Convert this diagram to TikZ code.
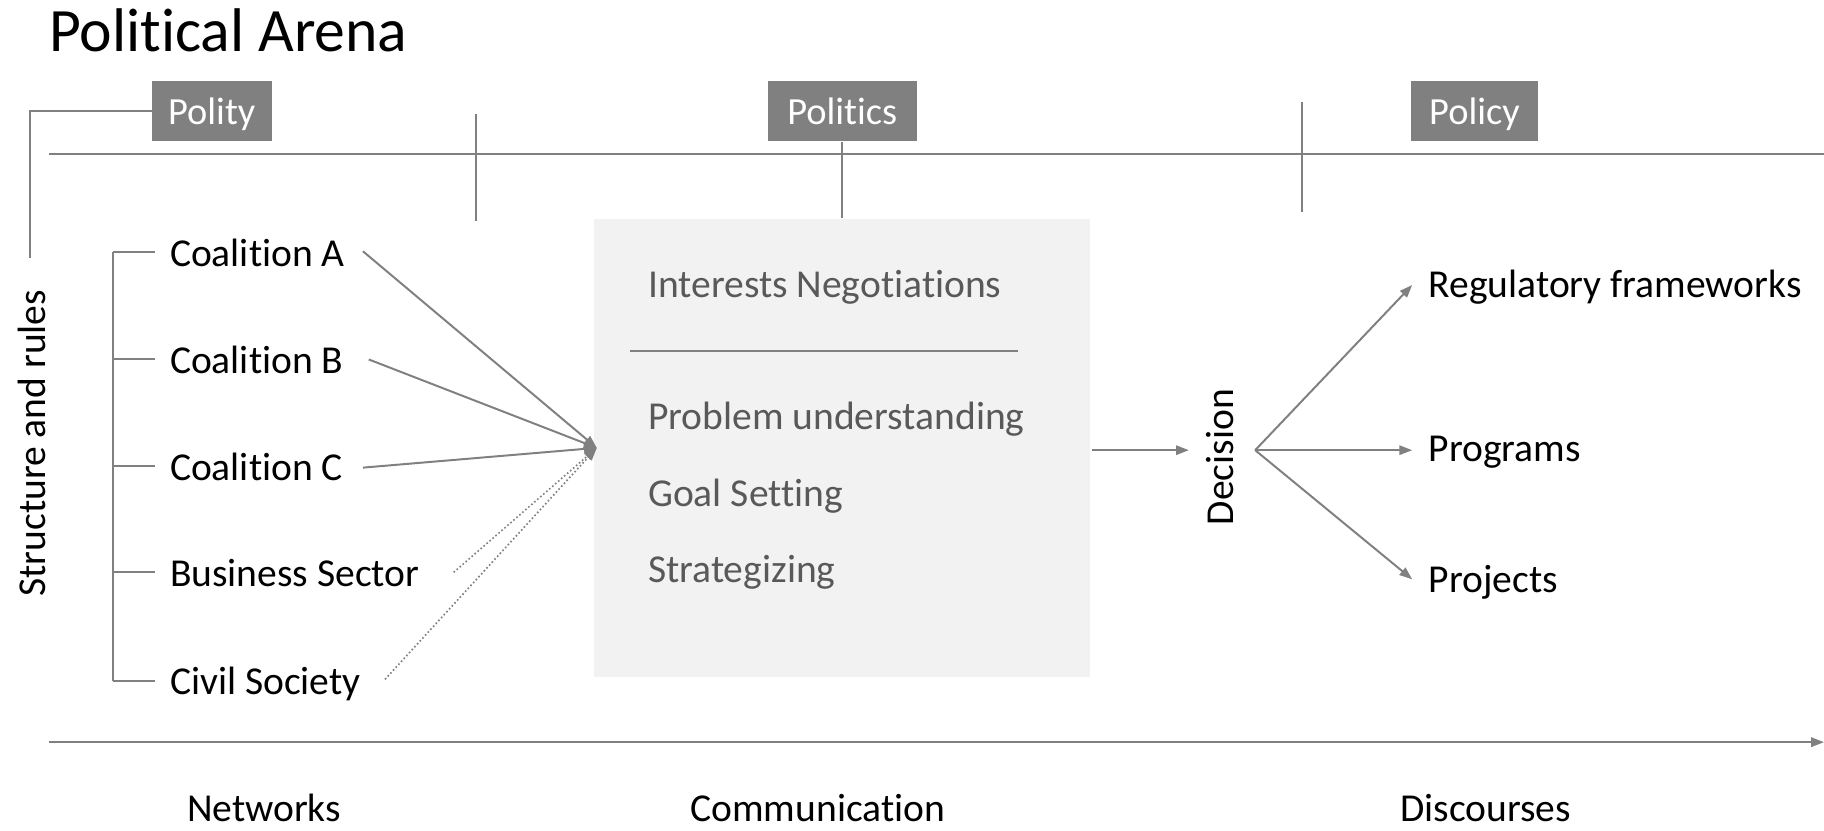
\documentclass[tikz,border=0pt]{standalone}
\usepackage{fontspec}
\setmainfont{Carlito}[Ligatures=NoCommon]
\usetikzlibrary{arrows.meta}
\definecolor{lg}{HTML}{808080}
\definecolor{boxbg}{HTML}{F2F2F2}
\definecolor{dtxt}{HTML}{595959}
\tikzset{
  ln/.style={draw=lg, line width=1.7pt},
  arr/.style={ln, -{Triangle[length=11pt,width=8pt]}},
  darr/.style={draw=lg, line width=1.4pt, dotted, -{Triangle[length=11pt,width=8pt]}},
  tag/.style={fill=lg, text=white, inner sep=0pt, text height=22pt, text depth=0pt, font=\fontsize{33}{40}\selectfont},
  lbl/.style={inner sep=0pt, font=\fontsize{34}{40}\selectfont, text=black},
  glbl/.style={inner sep=0pt, font=\fontsize{34}{40}\selectfont, text=dtxt},
}
\begin{document}
\begin{tikzpicture}[x=1pt,y=-1pt]
\useasboundingbox (0,0) rectangle (1568,714);
% title
\node[lbl, anchor=base west, font=\fontsize{53}{60}\selectfont] (title) at (42,44.5) {Political Arena};
% tags
\node[tag, minimum width=103pt, minimum height=52pt] (polity) at (182,95.6) {Polity};
\node[tag, minimum width=128pt, minimum height=52pt] (politics) at (724,95.6) {Politics};
\node[tag, minimum width=109pt, minimum height=52pt] (policy) at (1267.5,95.6) {Policy};
% top line and ticks
\coordinate (tl) at (42,132);
\coordinate (tr) at (1568,132);
\draw[ln] (tl) -- (tr);
\coordinate (t1a) at (409,98); \coordinate (t1b) at (409,190);
\draw[ln] (t1a) -- (t1b);
\coordinate (t2a) at (1119,88); \coordinate (t2b) at (1119,182);
\draw[ln] (t2a) -- (t2b);
% polity connector
\coordinate (pc) at (26,222);
\draw[ln] (polity.west) -| (pc);
\node[lbl, rotate=90, anchor=base] (struct) at (39.5,381) {Structure and rules};
% central box
\node[fill=boxbg, minimum width=426pt, minimum height=394pt, inner sep=0pt] (box) at (724,385) {};
\draw[ln] (box.north -| politics.south) -- (politics.south);
\node[glbl, anchor=base west] (int) at (557,256) {Interests Negotiations};
\coordinate (sl) at (542,301.5); \coordinate (sr) at (875,301.5);
\draw[ln] (sl) -- (sr);
\node[glbl, anchor=base west] (prob) at (557,369) {Problem understanding};
\node[glbl, anchor=base west] (goal) at (557,435) {Goal Setting};
\node[glbl, anchor=base west] (strat) at (557,501) {Strategizing};
% actors
\coordinate (br0) at (97.5,217);
\coordinate (br4) at (97.5,585);
\draw[ln] (br0) -- (br4);
\foreach \y/\n/\t in {217/ca/Coalition A,309/cb/Coalition B,401/cc/Coalition C,492/bs/Business Sector,585/cs/Civil Society}{
  \node[lbl, anchor=base west] (\n) at (146,\y+12) {\t};
  \draw[ln] (97.5,\y) -- (133,\y);
}
\coordinate (hub) at (513,385);
\coordinate (caE) at (312,216);
\coordinate (cbE) at (317,309);
\coordinate (ccE) at (312,402);
\coordinate (bsE) at (390,492);
\coordinate (csE) at (331,584);
\draw[arr] (caE) -- (hub);
\draw[arr] (cbE) -- (hub);
\draw[arr] (ccE) -- (hub);
\draw[darr] (bsE) -- (hub);
\draw[darr] (csE) -- (hub);
% decision
\node[lbl, rotate=90, anchor=base] (dec) at (1060,393) {Decision};
\coordinate (bxo) at (939,387);
\coordinate (din) at (1022,387);
\draw[arr] (bxo) -- (din);
\coordinate (dout) at (1079,387);
\node[lbl, anchor=base west] (reg) at (1228,256) {Regulatory frameworks};
\node[lbl, anchor=base west] (prog) at (1228,397) {Programs};
\node[lbl, anchor=base west] (proj) at (1228,509) {Projects};
\coordinate (regI) at (1214,245);
\coordinate (progI) at (1214,387);
\coordinate (projI) at (1214,498);
\draw[arr] (dout) -- (regI);
\draw[arr] (dout) -- (progI);
\draw[arr] (dout) -- (projI);
% bottom axis
\coordinate (bl) at (42,638);
\coordinate (brr) at (1568,638);
\draw[arr] (bl) -- (brr);
\node[lbl, anchor=base] (net) at (227,706) {Networks};
\node[lbl, anchor=base] (com) at (703,706) {Communication};
\node[lbl, anchor=base] (dis) at (1277,706) {Discourses};
\end{tikzpicture}
\end{document}
